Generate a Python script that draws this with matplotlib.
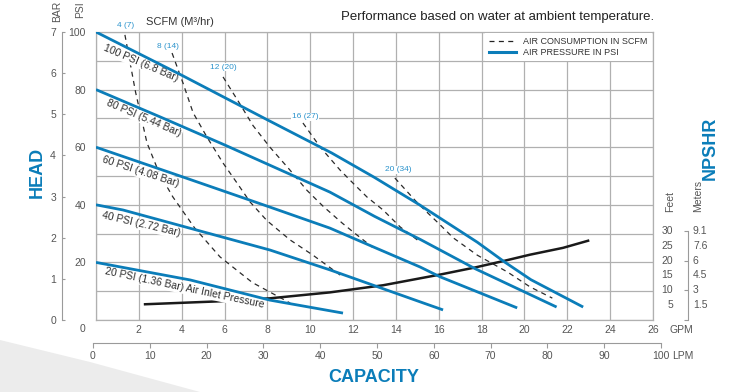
import numpy as np
import matplotlib.pyplot as plt
from matplotlib.lines import Line2D
from matplotlib.patches import Polygon
from matplotlib.transforms import blended_transform_factory

plt.rcParams['font.family'] = ['Liberation Sans', 'DejaVu Sans']

BLUE = '#0b7db9'
LBLUE = '#2b93cc'
GRID = '#b0b0b0'
AXC = '#9a9a9a'
TXT = '#555555'

# air pressure curves: GPM vs head (PSI)
p100_gpm = [0, 4, 8, 11, 13, 15.1, 17.8, 19.1, 20.3, 22.74]
p100_psi = [100, 85, 69.5, 58, 49.5, 40, 27, 20, 14, 4.5]
p80_gpm = [0, 3, 6, 9, 10.92, 13, 15.13, 17.7, 21.5]
p80_psi = [80, 70.5, 60.8, 50.8, 44.4, 36, 28, 17.8, 4.5]
p60_gpm = [0, 4, 8.12, 10.92, 13, 15.13, 16.06, 19.66]
p60_psi = [60, 49.8, 39.2, 31.9, 25.2, 18.4, 15, 4.2]
p40_gpm = [0, 1.26, 8.12, 10.92, 15.13, 16.2]
p40_psi = [40, 38.2, 24.3, 17.4, 6.3, 3.5]
p20_gpm = [0, 4.4, 8.12, 11.53]
p20_psi = [20, 13.9, 6.9, 2.4]

# air consumption curves (SCFM)
s4_gpm = [1.35, 1.85, 2.38, 2.95, 3.59, 4.6, 5.79, 7.3, 9.06]
s4_psi = [99, 79, 61.5, 51, 42.7, 32, 21.9, 13, 5.9]
s8_gpm = [3.55, 4.06, 4.53, 5.18, 5.93, 6.58, 7.19, 7.98, 9.06, 10.13, 11.4]
s8_psi = [92.7, 82.3, 72, 63.5, 54.5, 47.6, 41, 34.5, 27.8, 22.5, 15.6]
s12_gpm = [5.93, 6.72, 7.33, 8.12, 9.06, 9.85, 10.6, 11.5, 12.1, 12.9]
s12_psi = [84.4, 75, 67.5, 60, 52, 45, 39.5, 33.6, 30, 25.3]
s16_gpm = [9.66, 10.46, 11.4, 12.0, 12.65, 13.4, 14.2, 15.0]
s16_psi = [68.4, 60.1, 52, 47.5, 42.7, 38.2, 32.3, 27.8]
s20_gpm = [13.95, 14.9, 15.3, 16.0, 16.68, 17.8, 19.2, 20.26, 21.3]
s20_psi = [49.3, 41.5, 38.5, 33.5, 28.5, 22.5, 16.7, 11.5, 7.6]

# NPSHR curve: GPM vs feet
npshr_gpm = [2.29, 5.79, 8.12, 10.92, 13.4, 16.06, 17.7, 19.1, 20.26, 21.8, 22.97]
npshr_ft = [5.3, 6.3, 7.3, 9.3, 11.7, 15.3, 17.7, 20, 22, 24.3, 26.7]

psi_labels = ['100 PSI (6.8 Bar)', '80 PSI (5.44 Bar)', '60 PSI (4.08 Bar)',
              '40 PSI (2.72 Bar)', '20 PSI (1.36 Bar) Air Inlet Pressure']
scfm_labels = ['4 (7)', '8 (14)', '12 (20)', '16 (27)', '20 (34)']
feet_ticks = [5, 10, 15, 20, 25, 30]
meter_labels = ['1.5', '3', '4.5', '6', '7.6', '9.1']
bar_ticks = [0, 1, 2, 3, 4, 5, 6, 7]
lpm_ticks = [0, 10, 20, 30, 40, 50, 60, 70, 80, 90, 100]

W, H = 736, 392
fig = plt.figure(figsize=(7.36, 3.92), dpi=100)
fig.patches.append(Polygon([[0, 1 - 340 / H], [90 / W, 1 - 362 / H], [200 / W, 0], [0, 0]],
                           closed=True, transform=fig.transFigure, fc='#ececec', ec='none',
                           zorder=-1))

ax = fig.add_axes([96 / W, 1 - 320 / H, 557 / W, 288 / H])
ax_ft = ax.twinx()
ax_bar = ax.twinx()
ax.set_zorder(3)
ax.patch.set_visible(False)

pressures = [(p100_gpm, p100_psi), (p80_gpm, p80_psi), (p60_gpm, p60_psi),
             (p40_gpm, p40_psi), (p20_gpm, p20_psi)]
for g, p in pressures:
    ax.plot(g, p, color=BLUE, lw=2.0, solid_capstyle='butt', zorder=5)

scfm = [(s4_gpm, s4_psi), (s8_gpm, s8_psi), (s12_gpm, s12_psi),
        (s16_gpm, s16_psi), (s20_gpm, s20_psi)]
for g, p in scfm:
    ax.plot(g, p, color='#2a2a2a', lw=0.9, dashes=(4, 3.5), zorder=3)

ax_ft.set_ylim(1, 97)
ax.plot(npshr_gpm, npshr_ft, transform=ax_ft.transData, color='#1a1a1a', lw=1.8, zorder=3)

# pressure labels
lab_pos = [(2.1, 89.2, -23), (2.24, 70.1, -23), (2.1, 51.4, -18), (2.1, 33.3, -13), (4.15, 11.1, -12)]
for (x, y, r), s in zip(lab_pos, psi_labels):
    ax.text(x, y, s, rotation=r, rotation_mode='anchor', ha='center', va='center',
            fontsize=7.5, color='#2e2e2e', zorder=4,
            bbox=dict(fc='white', ec='none', pad=0.8))

scfm_pos = [(1.4, 102.4), (3.36, 95.1), (5.96, 87.8), (9.76, 70.5), (14.1, 52.1)]
for (x, y), s in zip(scfm_pos, scfm_labels):
    ax.text(x, y, s, ha='center', va='center', fontsize=6, color=LBLUE, zorder=4,
            clip_on=False, bbox=dict(fc='white', ec='none', pad=0.5))

ax.set_xlim(0, 26)
ax.set_ylim(0, 100)
ax.set_xticks(np.arange(0, 27, 2))
ax.set_xticklabels(['' if v == 0 else str(v) for v in range(0, 27, 2)])
ax.set_yticks(np.arange(0, 101, 10))
ax.set_yticklabels([str(v) if v % 20 == 0 and v > 0 else '' for v in range(0, 101, 10)])
ax.tick_params(axis='both', length=0, labelsize=7.5, labelcolor=TXT)
ax.tick_params(axis='y', pad=7.2)
ax.tick_params(axis='x', pad=3.6)
ax.grid(True, color=GRID, lw=0.9)
for s in ax.spines.values():
    s.set_color(GRID)
    s.set_linewidth(0.9)

handles = [Line2D([], [], color='#222222', lw=0.9, dashes=(4, 3.5)),
           Line2D([], [], color=BLUE, lw=2.2)]
leg = ax.legend(handles, ['AIR CONSUMPTION IN SCFM', 'AIR PRESSURE IN PSI'],
                loc='upper right', bbox_to_anchor=(1, 1), fontsize=6.5, frameon=True,
                facecolor='white', edgecolor='none', framealpha=1, fancybox=False,
                handlelength=3.0, borderaxespad=0.15, labelspacing=0.2, borderpad=0.45)
for t in leg.get_texts():
    t.set_color('#333333')
leg.set_zorder(6)

# BAR axis on the left
ax_bar.set_ylim(0, 7)
ax_bar.yaxis.tick_left()
ax_bar.set_yticks(bar_ticks)
for k in ['right', 'top', 'bottom']:
    ax_bar.spines[k].set_visible(False)
ax_bar.spines['left'].set_visible(True)
ax_bar.spines['left'].set_position(('outward', 24.5))
ax_bar.spines['left'].set_bounds(0, 7)
ax_bar.spines['left'].set_color(AXC)
ax_bar.tick_params(axis='y', direction='in', length=2.5, color=AXC, labelsize=7.5,
                   labelcolor=TXT, pad=4.3)

# NPSHR (feet) axis on the right
for k in ['left', 'top', 'bottom']:
    ax_ft.spines[k].set_visible(False)
ax_ft.spines['right'].set_position(('outward', 25.2))
ax_ft.spines['right'].set_bounds(0, 30)
ax_ft.spines['right'].set_color(AXC)
ax_ft.set_yticks([0, 10, 20, 30])
ax_ft.tick_params(axis='y', direction='in', length=3, color=AXC, labelright=False)
tr = blended_transform_factory(ax_ft.transAxes, ax_ft.transData)
for f, m in zip(feet_ticks, meter_labels):
    ax_ft.text(1.036, f, str(f), transform=tr, ha='right', va='center', fontsize=7.5,
               color=TXT, clip_on=False)
    ax_ft.text(1.0718, f, m, transform=tr, ha='left', va='center', fontsize=7.5,
               color=TXT, clip_on=False)

# LPM axis below
ax_lpm = fig.add_axes([93 / W, 1 - 343 / H, 568 / W, 0.001])
ax_lpm.patch.set_visible(False)
for k in ['left', 'right', 'top']:
    ax_lpm.spines[k].set_visible(False)
ax_lpm.spines['bottom'].set_color(AXC)
ax_lpm.set_xlim(0, 100)
ax_lpm.set_yticks([])
ax_lpm.set_xticks(lpm_ticks)
ax_lpm.set_xticklabels([str(v) for v in lpm_ticks])
ax_lpm.tick_params(axis='x', direction='out', length=3.6, color=AXC, labelsize=7.5,
                   labelcolor=TXT, pad=2)

# texts
fig.text(654 / W, 1 - 17 / H, 'Performance based on water at ambient temperature.',
         ha='right', va='center', fontsize=9.5, color='#222222')
fig.text(146 / W, 1 - 22 / H, 'SCFM (M³/hr)', ha='left', va='center', fontsize=8, color='#333333')
fig.text(37 / W, 1 - 172 / H, 'HEAD', rotation=90, ha='center', va='center',
         fontsize=13, fontweight='bold', color=BLUE)
fig.text(710 / W, 1 - 148 / H, 'NPSHR', rotation=90, ha='center', va='center',
         fontsize=13, fontweight='bold', color=BLUE)
fig.text(374 / W, 1 - 377 / H, 'CAPACITY', ha='center', va='center',
         fontsize=13, fontweight='bold', color=BLUE)
fig.text(57 / W, 1 - 1 / H, 'BAR', rotation=90, ha='center', va='top', fontsize=7.5, color=TXT)
fig.text(80 / W, 1 - 1 / H, 'PSI', rotation=90, ha='center', va='top', fontsize=7.5, color=TXT)
fig.text(670 / W, 1 - 212 / H, 'Feet', rotation=90, ha='center', va='bottom', fontsize=7.5, color=TXT)
fig.text(698 / W, 1 - 212 / H, 'Meters', rotation=90, ha='center', va='bottom', fontsize=7.5, color=TXT)
fig.text(681 / W, 1 - 330 / H, 'GPM', ha='center', va='center', fontsize=7.5, color=TXT)
fig.text(683 / W, 1 - 356 / H, 'LPM', ha='center', va='center', fontsize=7.5, color=TXT)
fig.text(83 / W, 1 - 329 / H, '0', ha='center', va='center', fontsize=7.5, color=TXT)

fig.savefig('out.png', dpi=100)
